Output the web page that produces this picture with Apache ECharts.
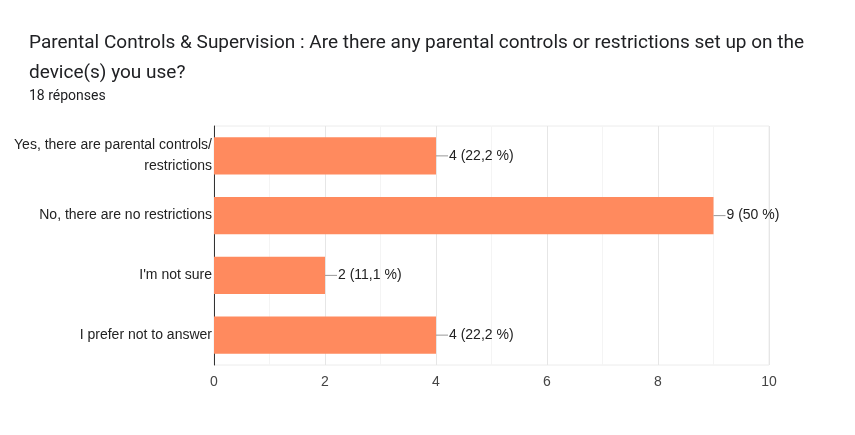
<!DOCTYPE html>
<html><head><meta charset="utf-8">
<script src="https://cdn.jsdelivr.net/npm/echarts@6/dist/echarts.min.js"></script>
<style>html,body{margin:0;padding:0;background:#fff}#c{width:855px;height:435px}</style>
</head><body><div id="c"></div>
<script>
const categories = ["Yes, there are parental controls/\nrestrictions", "No, there are no restrictions", "I'm not sure", "I prefer not to answer"];
const values = [4, 9, 2, 4];
const labels = ["4 (22,2 %)", "9 (50 %)", "2 (11,1 %)", "4 (22,2 %)"];
const xTicks = [0, 2, 4, 6, 8, 10];

const chart = echarts.init(document.getElementById('c'));
chart.setOption({
  animation: false,
  title: [
    {text: "Parental Controls & Supervision : Are there any parental controls or restrictions set up on the\ndevice(s) you use?",
     left: 24, top: 23, textStyle: {fontFamily: 'Roboto', fontSize: 19, fontWeight: 'normal', color: '#202124', lineHeight: 30}},
    {text: "18 réponses", left: 24, top: 84, textStyle: {fontFamily: 'Roboto', fontSize: 14, fontWeight: 'normal', color: '#202124'}}
  ],
  grid: {left: 214, right: 86, top: 126, bottom: 70, show: true, borderColor: '#ececec', borderWidth: 1},
  xAxis: {type: 'value', min: xTicks[0], max: xTicks[xTicks.length-1], interval: 2,
    axisLine: {show: false}, axisTick: {show: false},
    axisLabel: {fontFamily: 'Liberation Sans', fontSize: 14, color: '#444', margin: 10},
    splitLine: {lineStyle: {color: '#e6e6e6'}},
    minorTick: {show: false, splitNumber: 2},
    minorSplitLine: {show: true, lineStyle: {color: '#f4f4f4'}}},
  yAxis: {type: 'category', data: categories, inverse: true,
    axisLine: {show: true, lineStyle: {color: '#333', width: 1}}, axisTick: {show: false},
    axisLabel: {fontFamily: 'Liberation Sans', fontSize: 14, color: '#222', margin: 2, align: 'right', lineHeight: 21}},
  series: [{type: 'bar', data: values, barCategoryGap: '38%',
    itemStyle: {color: '#ff8a5e'},
    label: {show: true, position: 'right', distance: 0,
      formatter: p => '{l|}{t|' + labels[p.dataIndex] + '}',
      rich: {l: {width: 12, height: 1, backgroundColor: '#999'},
             t: {fontFamily: 'Liberation Sans', fontSize: 14, color: '#222', padding: [0,0,0,1]}}}
  }]
});
</script></body></html>
